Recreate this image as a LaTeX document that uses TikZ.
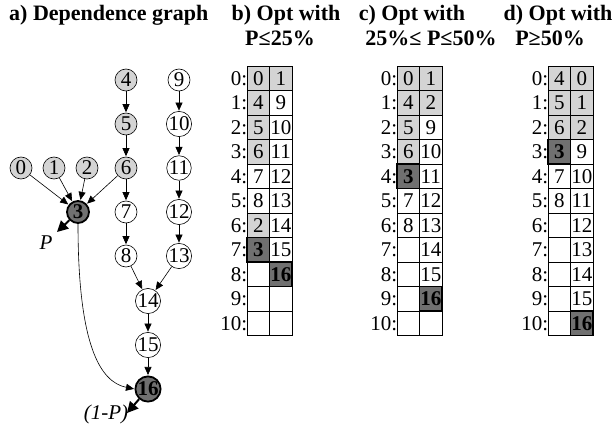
\documentclass[tikz,border=0pt]{standalone}
\usepackage{fontspec}
\setmainfont{Liberation Serif}
\usetikzlibrary{arrows.meta}
\definecolor{lightfill}{RGB}{212,212,212}
\definecolor{darkfill}{RGB}{112,112,112}
\tikzset{
  task/.style={circle,draw,line width=0.6pt,minimum size=22pt,inner sep=0pt,font=\fontsize{21}{21}\selectfont},
  done/.style={task,fill=lightfill},
  hot/.style={task,fill=darkfill,line width=1.8pt,font=\fontsize{21}{21}\selectfont\bfseries},
  dep/.style={-{Triangle[length=8pt,width=7pt]},line width=0.6pt,shorten >=0.5pt},
  exitarrow/.style={-{Triangle[length=11pt,width=11pt]},line width=2pt},
  title/.style={font=\fontsize{22}{22}\selectfont\bfseries,inner sep=0pt},
  cell/.style={draw,line width=0.6pt},
  hotcell/.style={draw,fill=darkfill,line width=1.8pt},
  num/.style={font=\fontsize{21}{21}\selectfont,inner sep=0pt},
  rowlab/.style={font=\fontsize{21}{21}\selectfont,inner sep=0pt,anchor=east}
}
% row labels 0: .. 10: of a schedule table whose left edge is at x = #1
\newcommand{\schedtable}[2]{%
  \foreach \r in {0,...,10} {
    \pgfmathsetmacro{\yt}{66+24.5*\r}
    \node[rowlab] (#2lab\r) at (#1+0.5,\yt+12.25) {\r:};
  }
}
% one table cell: left x, row, column, style, text, node name
\newcommand{\cellat}[6]{%
  \pgfmathsetmacro{\xl}{#1+22.5*#3}
  \pgfmathsetmacro{\yt}{66+24.5*#2}
  \draw[#4] (\xl,\yt) rectangle ++(22.5,24.5);
  \node[num] (#6) at (\xl+11.25,\yt+12.5) {#5};
}
\begin{document}
\begin{tikzpicture}[x=1pt,y=-1pt]
\useasboundingbox (0,0) rectangle (615,425);

% headings
\node[title,anchor=west] (ta) at (9,15) {a) Dependence graph};
\node[title] (tb) at (286,15) {b) Opt with};
\node[title] (tb2) at (280,38) {P≤25\%};
\node[title] (tc) at (412,15) {c) Opt with};
\node[title] (tc2) at (431,38) {25\%≤ P≤50\%};
\node[title] (td) at (558,15) {d) Opt with};
\node[title] (td2) at (550,38) {P≥50\%};

% dependence graph
\node[done] (n4) at (126,80) {4};
\node[task] (n9) at (179,80) {9};
\node[done] (n5) at (126,124) {5};
\node[task] (n10) at (179,124) {10};
\node[done] (n0) at (21,168) {0};
\node[done] (n1) at (54,168) {1};
\node[done] (n2) at (87,168) {2};
\node[done] (n6) at (126,168) {6};
\node[task] (n11) at (179,168) {11};
\node[hot] (n3) at (78,212) {3};
\node[task] (n7) at (126,212) {7};
\node[task] (n12) at (179,212) {12};
\node[task] (n8) at (126,256) {8};
\node[task] (n13) at (179,256) {13};
\node[task] (n14) at (148,301) {14};
\node[task] (n15) at (148,345) {15};
\node[hot] (n16) at (148,389) {16};

\foreach \a/\b in {n4/n5,n5/n6,n6/n7,n7/n8,n8/n14,n9/n10,n10/n11,n11/n12,n12/n13,n13/n14,n14/n15,n15/n16,n0/n3,n1/n3,n2/n3,n6/n3}
  \draw[dep] (\a) -- (\b);
\draw[dep] (n3.south) .. controls (78,345) and (100,382) .. (n16.west);

\coordinate (pexit) at (57,232);
\coordinate (qexit) at (127,413);
\draw[exitarrow] (n3) -- (pexit);
\draw[exitarrow] (n16) -- (qexit);
\node[font=\fontsize{21}{21}\selectfont\itshape] (plab) at (46,243) {P};
\node[font=\fontsize{21}{21}\selectfont\itshape] (qlab) at (106,414) {(1-P)};

% table b
\schedtable{247}{tb}
\foreach \r/\a/\af/\b/\bf in {0/0/lightfill/1/lightfill,1/4/lightfill/9/white,2/5/lightfill/10/white,3/6/lightfill/11/white,4/7/white/12/white,5/8/white/13/white,6/2/lightfill/14/white,8//white//white,9//white//white,10//white//white}{
  \cellat{247}{\r}{0}{cell,fill=\af}{\a}{tbA\r}
  \cellat{247}{\r}{1}{cell,fill=\bf}{\b}{tbB\r}
}
\cellat{247}{7}{1}{cell,fill=white}{15}{tbB7}
\cellat{247}{7}{0}{hotcell}{\bfseries 3}{tbH1}
\cellat{247}{8}{1}{hotcell}{\bfseries 16}{tbH2}

% table c
\schedtable{397}{tc}
\foreach \r/\a/\af/\b/\bf in {0/0/lightfill/1/lightfill,1/4/lightfill/2/lightfill,2/5/lightfill/9/white,3/6/lightfill/10/white,5/7/white/12/white,6/8/white/13/white,7//white/14/white,8//white/15/white,10//white//white}{
  \cellat{397}{\r}{0}{cell,fill=\af}{\a}{tcA\r}
  \cellat{397}{\r}{1}{cell,fill=\bf}{\b}{tcB\r}
}
\cellat{397}{4}{1}{cell,fill=white}{11}{tcB4}
\cellat{397}{9}{0}{cell,fill=white}{}{tcA9}
\cellat{397}{4}{0}{hotcell}{\bfseries 3}{tcH1}
\cellat{397}{9}{1}{hotcell}{\bfseries 16}{tcH2}

% table d
\schedtable{548}{td}
\foreach \r/\a/\af/\b/\bf in {0/4/lightfill/0/lightfill,1/5/lightfill/1/lightfill,2/6/lightfill/2/lightfill,4/7/white/10/white,5/8/white/11/white,6//white/12/white,7//white/13/white,8//white/14/white,9//white/15/white}{
  \cellat{548}{\r}{0}{cell,fill=\af}{\a}{tdA\r}
  \cellat{548}{\r}{1}{cell,fill=\bf}{\b}{tdB\r}
}
\cellat{548}{3}{1}{cell,fill=white}{9}{tdB3}
\cellat{548}{10}{0}{cell,fill=white}{}{tdA10}
\cellat{548}{3}{0}{hotcell}{\bfseries 3}{tdH1}
\cellat{548}{10}{1}{hotcell}{\bfseries 16}{tdH2}
\end{tikzpicture}
\end{document}
